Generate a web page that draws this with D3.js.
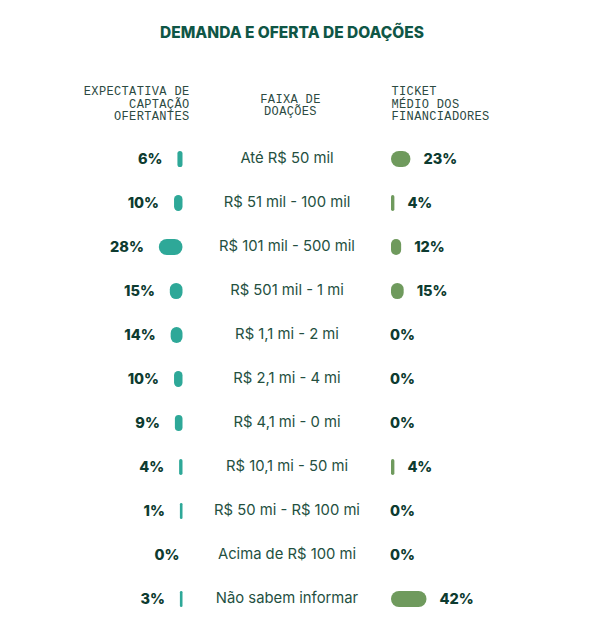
<!DOCTYPE html>
<html>
<head>
<meta charset="utf-8">
<script src="https://cdn.jsdelivr.net/npm/d3@7"></script>
<style>
  body { margin: 0; background: #fff; }
  .title { font-family: Inter, sans-serif; font-weight: 800; font-size: 15.5px; fill: #0f5646; }
  .head { font-family: "Liberation Mono", monospace; font-size: 12px; letter-spacing: 0.35px; fill: #2c4a42; }
  .range { font-family: Inter, sans-serif; font-weight: 400; font-size: 14.8px; fill: #24503f; }
  .pct { font-family: Inter, sans-serif; font-weight: 800; font-size: 14.5px; fill: #0d3b30; }
</style>
</head>
<body>
<svg id="chart" width="596" height="632"></svg>
<script>
// DATA
const faixas = ["Até R$ 50 mil", "R$ 51 mil - 100 mil", "R$ 101 mil - 500 mil", "R$ 501 mil - 1 mi",
  "R$ 1,1 mi - 2 mi", "R$ 2,1 mi - 4 mi", "R$ 4,1 mi - 0 mi", "R$ 10,1 mi - 50 mi",
  "R$ 50 mi - R$ 100 mi", "Acima de R$ 100 mi", "Não sabem informar"];
const ofertantes = [6, 10, 28, 15, 14, 10, 9, 4, 1, 0, 3];
const financiadores = [23, 4, 12, 15, 0, 0, 0, 4, 0, 0, 42];

const headLeft = ["EXPECTATIVA DE", "CAPTAÇÃO", "OFERTANTES"];
const headMid = ["FAIXA DE", "DOAÇÕES"];
const headRight = ["TICKET", "MÉDIO DOS", "FINANCIADORES"];

// SETUP
const svg = d3.select("#chart");
const leftEdge = 182.5, rightEdge = 391, midX = 287;
const barH = 16, gap = 15;

const y = d3.scalePoint()
    .domain(faixas)
    .range([159, 599]);

const w = d3.scaleLinear()
    .domain([0, 42])
    .range([0, 35.5]);

const barW = v => v > 0 ? Math.max(2.6, w(v)) : 0;

// TITLE
svg.append("text")
    .attr("class", "title")
    .attr("x", 292)
    .attr("y", 38)
    .attr("text-anchor", "middle")
    .text("DEMANDA E OFERTA DE DOAÇÕES");

// HEADERS
const lineH = 12.6;
svg.append("text").attr("class", "head")
    .attr("text-anchor", "end")
    .selectAll("tspan").data(headLeft).join("tspan")
    .attr("x", 189.5)
    .attr("y", (d, i) => 95 + i * lineH)
    .text(d => d);

svg.append("text").attr("class", "head")
    .attr("text-anchor", "middle")
    .selectAll("tspan").data(headMid).join("tspan")
    .attr("x", 290.5)
    .attr("y", (d, i) => 102.5 + i * lineH)
    .text(d => d);

svg.append("text").attr("class", "head")
    .attr("text-anchor", "start")
    .selectAll("tspan").data(headRight).join("tspan")
    .attr("x", 391.5)
    .attr("y", (d, i) => 95 + i * lineH)
    .text(d => d);

// ROWS
const rows = faixas.map((f, i) => ({ f, o: ofertantes[i], t: financiadores[i] }));

const g = svg.append("g");

// left bars (ofertantes)
g.selectAll(".barL").data(rows.filter(d => d.o > 0)).join("rect")
    .attr("x", d => leftEdge - barW(d.o))
    .attr("y", d => y(d.f) - barH / 2)
    .attr("width", d => barW(d.o))
    .attr("height", barH)
    .attr("rx", d => Math.min(barW(d.o) / 2, barH / 2))
    .attr("fill", "#2ea898");

g.selectAll(".pctL").data(rows).join("text")
    .attr("class", "pct")
    .attr("text-anchor", "end")
    .attr("x", d => d.o > 0 ? leftEdge - barW(d.o) - gap : leftEdge - 3)
    .attr("y", d => y(d.f))
    .attr("dy", "0.36em")
    .text(d => d.o + "%");

// middle labels
g.selectAll(".range").data(rows).join("text")
    .attr("class", "range")
    .attr("text-anchor", "middle")
    .attr("x", midX)
    .attr("y", d => y(d.f) - 1.5)
    .attr("dy", "0.36em")
    .text(d => d.f);

// right bars (financiadores)
g.selectAll(".barR").data(rows.filter(d => d.t > 0)).join("rect")
    .attr("x", rightEdge)
    .attr("y", d => y(d.f) - barH / 2)
    .attr("width", d => barW(d.t))
    .attr("height", barH)
    .attr("rx", d => Math.min(barW(d.t) / 2, barH / 2))
    .attr("fill", "#6f9a5d");

g.selectAll(".pctR").data(rows).join("text")
    .attr("class", "pct")
    .attr("text-anchor", "start")
    .attr("x", d => d.t > 0 ? rightEdge + barW(d.t) + 13 : rightEdge - 1)
    .attr("y", d => y(d.f))
    .attr("dy", "0.36em")
    .text(d => d.t + "%");
</script>
</body>
</html>
